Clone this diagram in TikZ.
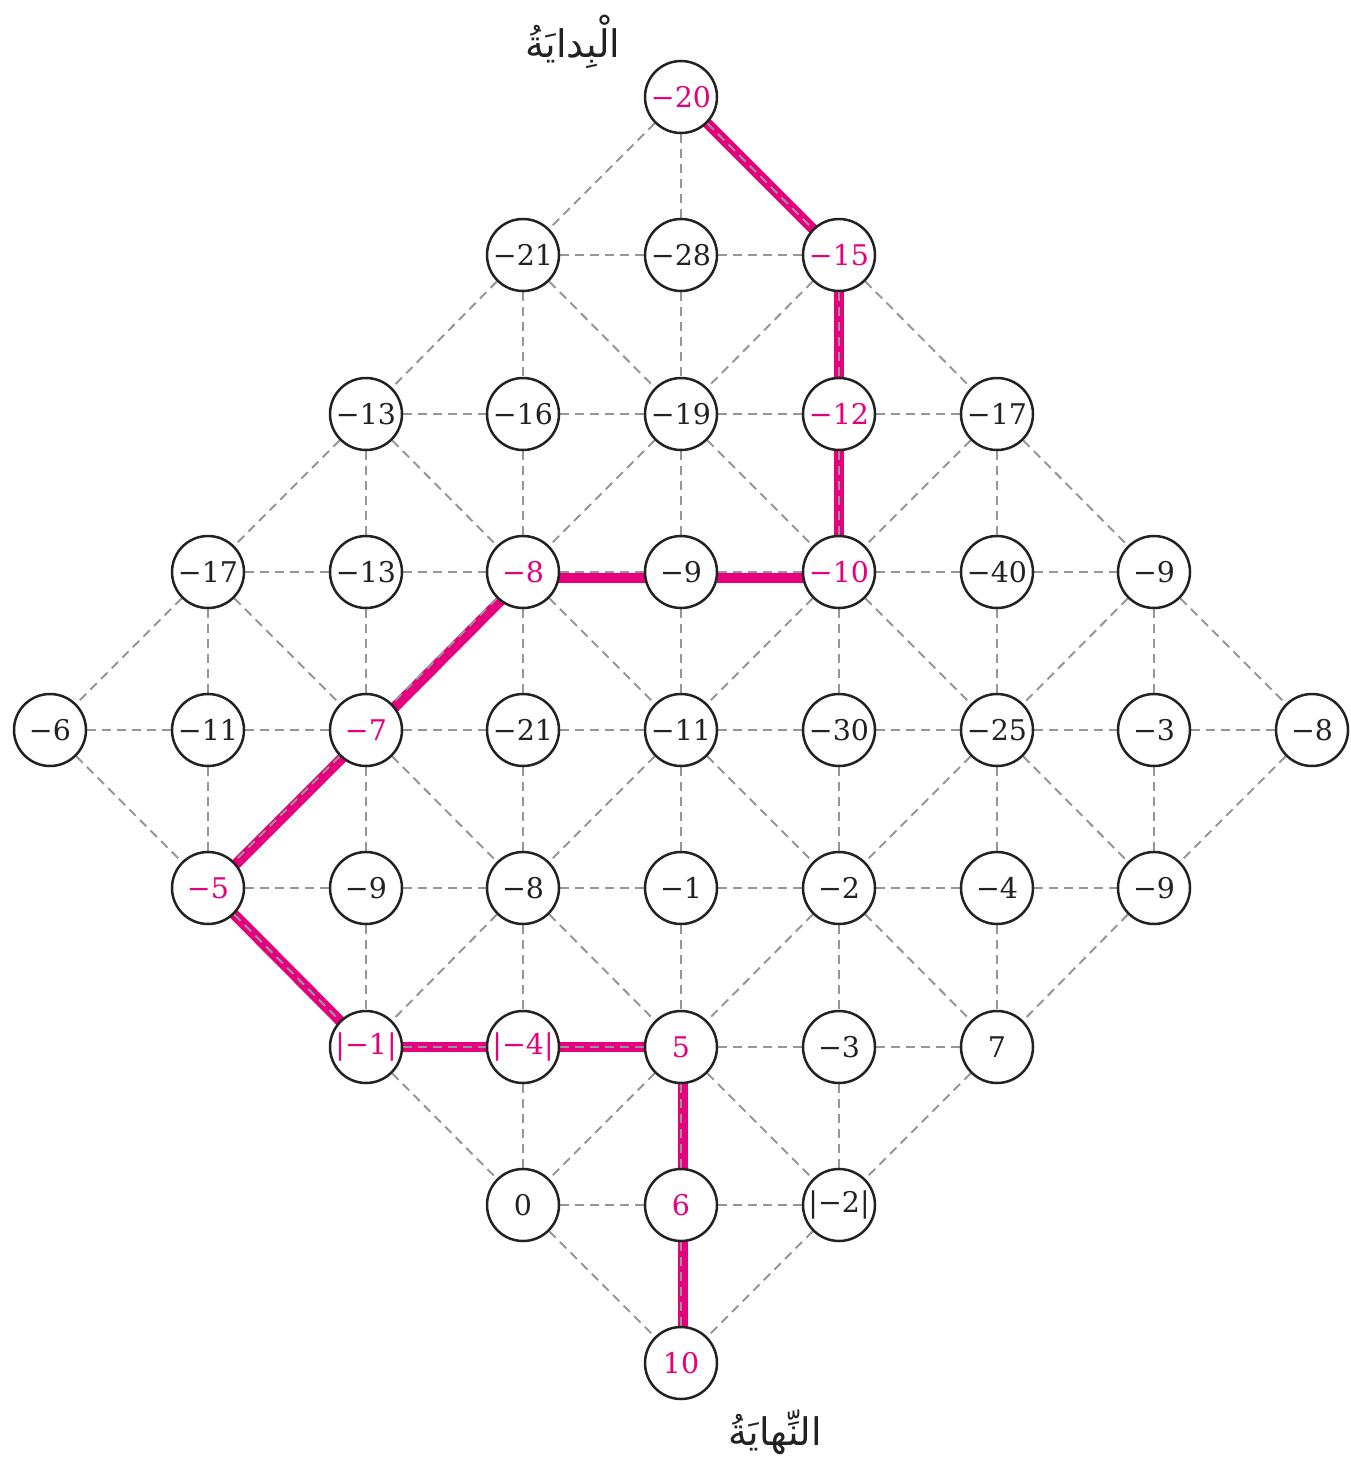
\documentclass[tikz,border=0pt]{standalone}
\usepackage{fontspec}
\newfontfamily\arabicfont[Script=Arabic]{DejaVu Sans}
\newfontfamily\numfont{DejaVu Serif}
\TeXXeTstate=1
\usetikzlibrary{backgrounds}
\definecolor{pathpink}{RGB}{230,0,126}
\definecolor{gridgray}{RGB}{150,150,150}
\definecolor{ink}{RGB}{34,34,34}
\tikzset{
  cell/.style={circle, draw=ink, line width=2.5pt, fill=white, minimum size=72pt,
    inner sep=0pt, text=ink, font=\numfont\fontsize{28.5}{33}\selectfont},
  hot/.style={cell, text=pathpink},
  gridedge/.style={draw=gridgray, line width=2pt, dash pattern=on 9pt off 6pt},
  pathedge/.style={draw=pathpink, line width=10.5pt},
  label/.style={text=ink, font={\arabicfont\fontsize{38}{44}\selectfont}},
}
\newcommand\gnode[4]{\node[#3] (n-#1-#2) at ({round(50+157.75*#2)},{round(97+158.25*#1)}) {#4};}
\begin{document}
\begin{tikzpicture}[x=1pt,y=-1pt]
\useasboundingbox (0,0) rectangle (1350,1472);
% row 0
\gnode{0}{4}{hot}{−20}
% row 1
\gnode{1}{3}{cell}{−21}
\gnode{1}{4}{cell}{−28}
\gnode{1}{5}{hot}{−15}
% row 2
\gnode{2}{2}{cell}{−13}
\gnode{2}{3}{cell}{−16}
\gnode{2}{4}{cell}{−19}
\gnode{2}{5}{hot}{−12}
\gnode{2}{6}{cell}{−17}
% row 3
\gnode{3}{1}{cell}{−17}
\gnode{3}{2}{cell}{−13}
\gnode{3}{3}{hot}{−8}
\gnode{3}{4}{cell}{−9}
\gnode{3}{5}{hot}{−10}
\gnode{3}{6}{cell}{−40}
\gnode{3}{7}{cell}{−9}
% row 4
\gnode{4}{0}{cell}{−6}
\gnode{4}{1}{cell}{−11}
\gnode{4}{2}{hot}{−7}
\gnode{4}{3}{cell}{−21}
\gnode{4}{4}{cell}{−11}
\gnode{4}{5}{cell}{−30}
\gnode{4}{6}{cell}{−25}
\gnode{4}{7}{cell}{−3}
\gnode{4}{8}{cell}{−8}
% row 5
\gnode{5}{1}{hot}{−5}
\gnode{5}{2}{cell}{−9}
\gnode{5}{3}{cell}{−8}
\gnode{5}{4}{cell}{−1}
\gnode{5}{5}{cell}{−2}
\gnode{5}{6}{cell}{−4}
\gnode{5}{7}{cell}{−9}
% row 6
\gnode{6}{2}{hot}{|−1|}
\gnode{6}{3}{hot}{|−4|}
\gnode{6}{4}{hot}{5}
\gnode{6}{5}{cell}{−3}
\gnode{6}{6}{cell}{7}
% row 7
\gnode{7}{3}{cell}{0}
\gnode{7}{4}{hot}{6}
\gnode{7}{5}{cell}{|−2|}
% row 8
\gnode{8}{4}{hot}{10}
% labels
\node[label] (start) at (573,42) {\beginR الْبِدايَةُ\endR};
\node[label] (finish) at (775,1432) {\beginR النِّهايَةُ\endR};
\begin{scope}[on background layer]
  % highlighted path
  \draw[pathedge] (n-0-4.center) -- (n-1-5.center);
  \draw[pathedge] (n-1-5.center) -- (n-2-5.center);
  \draw[pathedge] (n-2-5.center) -- (n-3-5.center);
  \draw[pathedge] ([shift={(0,6)}]n-3-5.center) -- ([shift={(0,6)}]n-3-4.center);
  \draw[pathedge] ([shift={(0,6)}]n-3-4.center) -- ([shift={(0,6)}]n-3-3.center);
  \draw[pathedge] ([shift={(3,3)}]n-3-3.center) -- ([shift={(3,3)}]n-4-2.center);
  \draw[pathedge] ([shift={(2,2)}]n-4-2.center) -- ([shift={(2,2)}]n-5-1.center);
  \draw[pathedge] (n-5-1.center) -- (n-6-2.center);
  \draw[pathedge] (n-6-2.center) -- (n-6-3.center);
  \draw[pathedge] (n-6-3.center) -- (n-6-4.center);
  \draw[pathedge] ([shift={(2,0)}]n-6-4.center) -- ([shift={(2,0)}]n-7-4.center);
  \draw[pathedge] ([shift={(2,0)}]n-7-4.center) -- ([shift={(2,0)}]n-8-4.center);
  % grid
  \foreach \r in {0,...,8}{
    \foreach \c in {0,...,8}{
      \ifcsname pgf@sh@ns@n-\r-\c\endcsname
        \pgfmathtruncatemacro\cn{\c+1}
        \pgfmathtruncatemacro\cp{\c-1}
        \pgfmathtruncatemacro\rn{\r+1}
        \pgfmathtruncatemacro\parity{mod(\r+\c,2)}
        \ifcsname pgf@sh@ns@n-\r-\cn\endcsname
          \draw[gridedge] (n-\r-\c) -- (n-\r-\cn);
        \fi
        \ifcsname pgf@sh@ns@n-\rn-\c\endcsname
          \draw[gridedge] (n-\r-\c) -- (n-\rn-\c);
        \fi
        \ifnum\parity=0
          \ifcsname pgf@sh@ns@n-\rn-\cn\endcsname
            \draw[gridedge] (n-\r-\c) -- (n-\rn-\cn);
          \fi
          \ifcsname pgf@sh@ns@n-\rn-\cp\endcsname
            \draw[gridedge] (n-\r-\c) -- (n-\rn-\cp);
          \fi
        \fi
      \fi
    }
  }
\end{scope}
\end{tikzpicture}
\end{document}
